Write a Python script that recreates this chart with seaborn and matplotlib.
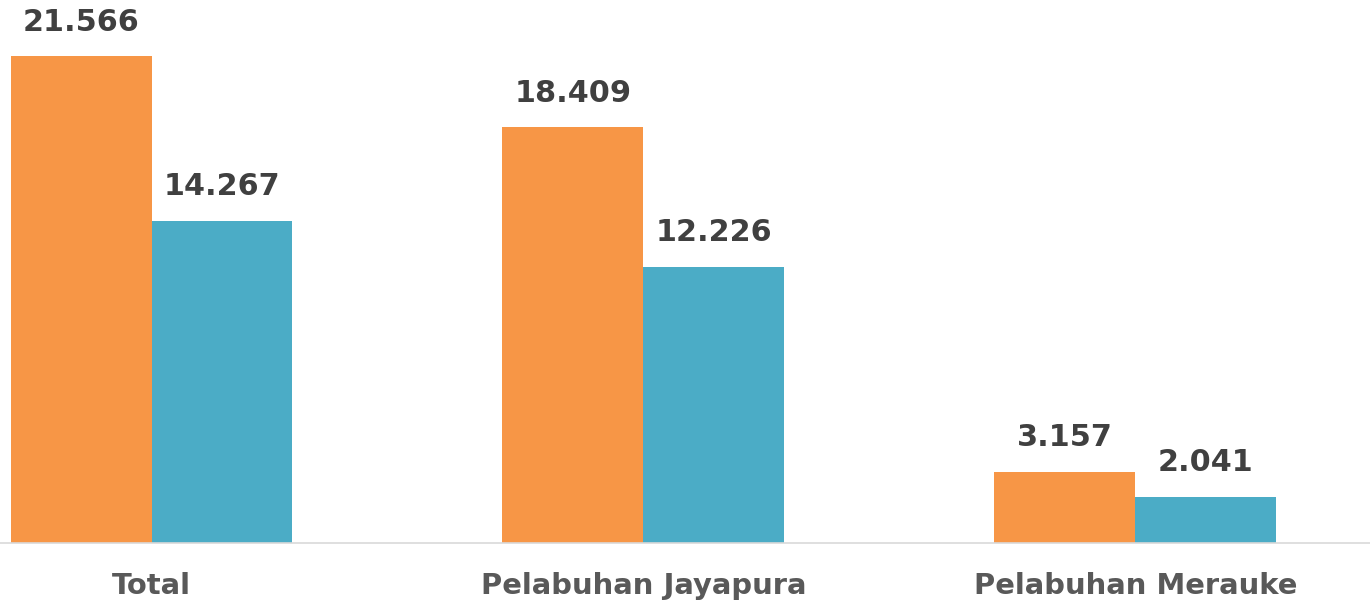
import matplotlib
matplotlib.use("Agg")
import matplotlib.pyplot as plt
import seaborn as sns
import pandas as pd

# Data
lokasi = ["Total", "Pelabuhan Jayapura", "Pelabuhan Merauke"]
seri = ["Seri A", "Seri B"]
nilai_a = [21566, 18409, 3157]
nilai_b = [14267, 12226, 2041]

warna = ["#F79646", "#4BACC6"]

df = pd.DataFrame({
    "lokasi": lokasi * 2,
    "seri": [seri[0]] * len(lokasi) + [seri[1]] * len(lokasi),
    "nilai": nilai_a + nilai_b,
})

sns.set_theme(style="white")
plt.rcParams["font.family"] = ["DejaVu Sans"]

fig = plt.figure(figsize=(13.7, 6.02), dpi=100)
ax = fig.add_axes([0, 59 / 602, 1, 543 / 602])

sns.barplot(
    data=df, x="lokasi", y="nilai", hue="seri", order=lokasi, hue_order=seri,
    palette=warna, saturation=1, width=0.573, linewidth=0, legend=False,
    errorbar=None, ax=ax,
)

def fmt(v):
    return f"{v:,}".replace(",", ".")

for container in ax.containers:
    for bar in container:
        h = bar.get_height()
        ax.annotate(
            fmt(int(round(h))),
            xy=(bar.get_x() + bar.get_width() / 2, h),
            xytext=(0, 24.5), textcoords="offset points",
            ha="center", va="center", fontsize=21.8, fontweight="bold",
            color="#404040",
        )

ax.set_xlim(-0.308, 2.477)
ax.set_ylim(0, 24050)
ax.set_xlabel("")
ax.set_ylabel("")
ax.set_yticks([])
ax.tick_params(axis="x", length=0, pad=21, labelsize=20.9, labelcolor="#595959")
for lbl in ax.get_xticklabels():
    lbl.set_fontweight("bold")

for side in ["top", "left", "right"]:
    ax.spines[side].set_visible(False)
ax.spines["bottom"].set_color("#D9D9D9")
ax.spines["bottom"].set_linewidth(1.2)

fig.savefig("out.png", dpi=100)
